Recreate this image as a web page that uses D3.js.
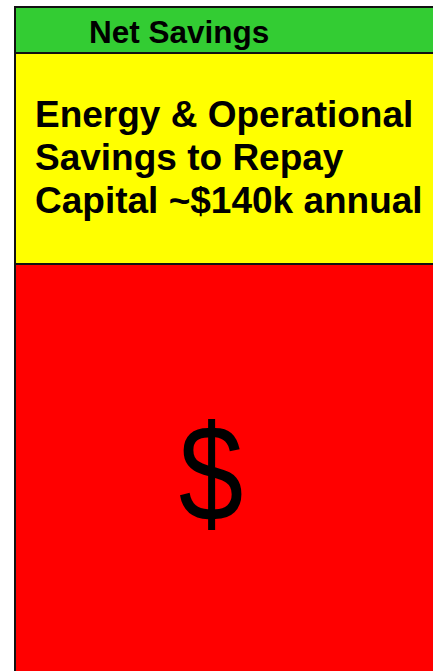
<!DOCTYPE html>
<html>
<head>
<meta charset="utf-8">
<script src="https://cdn.jsdelivr.net/npm/d3@7"></script>
<style>
  body { margin: 0; background: #fff; overflow: hidden; }
  svg { display: block; }
</style>
</head>
<body>
<div id="chart"></div>
<script>
var width = 433;
var height = 671;

// stacked blocks, top to bottom
var blocks = ["net", "repay", "capital"];
var blockSizes = [46, 211, 420];
var blockColors = ["#33cc33", "#ffff00", "#ff0000"];
var blockLines = [
  ["Net Savings"],
  ["Energy & Operational", "Savings to Repay", "Capital ~$140k annual"],
  ["$"]
];

var svg = d3.select("#chart")
  .append("svg")
  .attr("width", width)
  .attr("height", height);

var stacked = [];
var acc = 0;
blockSizes.forEach((v, i) => {
  stacked.push({ key: blocks[i], y0: acc, y1: acc + v, color: blockColors[i], lines: blockLines[i] });
  acc += v;
});

var yScale = d3.scaleLinear()
  .domain([0, acc])
  .range([7, 7 + acc]);

var xScale = d3.scaleBand()
  .domain(["col"])
  .range([15, 445])
  .padding(0);

var g = svg.append("g");

g.selectAll("rect.block")
  .data(stacked)
  .enter()
  .append("rect")
  .attr("class", "block")
  .attr("x", xScale("col"))
  .attr("y", d => yScale(d.y0))
  .attr("width", xScale.bandwidth())
  .attr("height", d => yScale(d.y1) - yScale(d.y0))
  .attr("fill", d => d.color)
  .attr("stroke", "#111")
  .attr("stroke-width", 2);

// labels
var net = stacked[0];
g.append("text")
  .attr("x", 89)
  .attr("y", yScale(net.y1) - 10)
  .attr("font-family", "Liberation Sans, Arial, sans-serif")
  .attr("font-weight", "bold")
  .attr("font-size", "31.5px")
  .attr("fill", "#000")
  .text(net.lines[0]);

var repay = stacked[1];
g.selectAll("text.repay")
  .data(repay.lines)
  .enter()
  .append("text")
  .attr("class", "repay")
  .attr("x", 35)
  .attr("y", (d, i) => yScale(repay.y0) + 74 + i * 43)
  .attr("font-family", "Liberation Sans, Arial, sans-serif")
  .attr("font-weight", "bold")
  .attr("font-size", "37px")
  .attr("fill", "#000")
  .text(d => d);

// big dollar sign, slightly stretched vertically like the original
var cap = stacked[2];
g.append("text")
  .attr("transform", "translate(211," + (yScale(cap.y0) + 257) + ") scale(1,1.19)")
  .attr("text-anchor", "middle")
  .attr("font-family", "Liberation Sans, Arial, sans-serif")
  .attr("font-size", "116px")
  .attr("fill", "#000")
  .text(cap.lines[0]);
</script>
</body>
</html>
